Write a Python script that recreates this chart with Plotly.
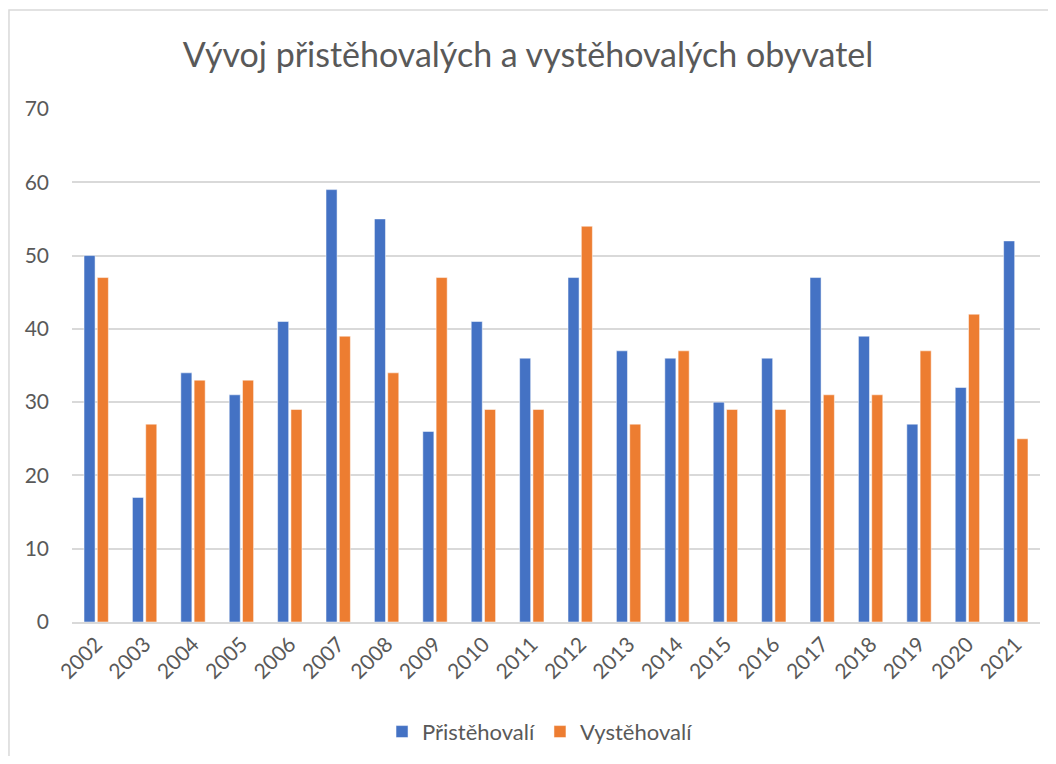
import plotly.graph_objects as go

years = [str(y) for y in range(2002, 2022)]
pristehovali = [50, 17, 34, 31, 41, 59, 55, 26, 41, 36, 47, 37, 36, 30, 36, 47, 39, 27, 32, 52]
vystehovali = [47, 27, 33, 33, 29, 39, 34, 47, 29, 29, 54, 27, 37, 29, 29, 31, 31, 37, 42, 25]

FONT = "Lato"
GREY = "#595959"

fig = go.Figure()
fig.add_trace(go.Bar(x=years, y=pristehovali, name="Přistěhovalí",
                     marker=dict(color="#4472C4", line=dict(color="white", width=0.5))))
fig.add_trace(go.Bar(x=years, y=vystehovali, name="Vystěhovalí",
                     marker=dict(color="#ED7D31", line=dict(color="white", width=0.5))))

# rámeček grafu (Excel)
fig.add_shape(type="rect", xref="paper", yref="paper",
              x0=-0.0651, x1=1.05, y0=-0.4, y1=1.193,
              line=dict(color="#D9D9D9", width=1.5), layer="below")

# stránka má okraj 8 px, proto posun okrajů
fig.update_layout(
    width=1040, height=748,
    margin=dict(l=64, r=8, t=101, b=134, autoexpand=False),
    paper_bgcolor="white", plot_bgcolor="white",
    barmode="group", bargap=0.45, bargroupgap=0.17,
    title=dict(text="Vývoj přistěhovalých a vystěhovalých obyvatel",
               x=0.5, xanchor="center", y=0.937, yanchor="middle",
               font=dict(family=FONT, size=34, color=GREY)),
    xaxis=dict(tickangle=-45, showgrid=False, showline=True, automargin=False,
               linecolor="#D9D9D9", linewidth=1.5,
               tickfont=dict(family=FONT, size=21, color=GREY)),
    yaxis=dict(range=[0, 70], dtick=10, showgrid=True, gridcolor="#D9D9D9",
               gridwidth=1.5, zeroline=False, ticklabelstandoff=22, automargin=False,
               tickfont=dict(family=FONT, size=21, color=GREY)),
    legend=dict(orientation="h", x=0.4835, xanchor="center", y=-0.214, yanchor="middle",
                font=dict(family=FONT, size=22, color=GREY), itemwidth=30,
                traceorder="normal"),
)

fig.write_html("out.html")
